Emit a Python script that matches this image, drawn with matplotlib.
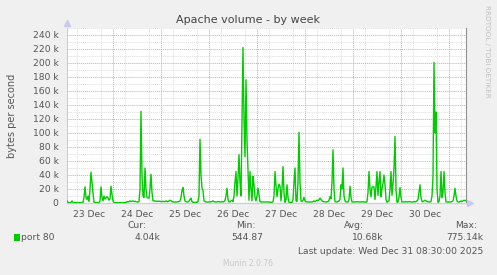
import numpy as np
import pandas as pd
import matplotlib
matplotlib.use("Agg")
import matplotlib.pyplot as plt
import matplotlib.dates as mdates
from matplotlib.patches import Rectangle
from matplotlib.ticker import MultipleLocator, FuncFormatter

# port 80 traffic, k bytes/s, one sample per 30 min from Dec 23 01:00
dec23 = [3, 1, 0.5, 0.5, 1, 3, 1, 0.5, 0.5, 0.5, 0.5, 0.5, 0.5, 0.5, 0.5, 0.5, 0.5,
         8, 23, 8, 5, 10, 2, 20, 44, 30, 14, 1, 0.5, 0.5, 0.5, 0.5, 0.5, 3, 23, 8,
         3, 10, 6, 7, 9, 7, 4, 6, 24, 12]
dec24 = [3, 0.5, 0.5, 0.5, 0.5, 0.5, 0.5, 0.5, 0.5, 0.5, 0.5, 0.5, 0.5,
         1, 2, 1.5, 2, 3, 2, 2.5, 3, 2, 2.5, 2, 1.5, 1.5, 2, 20, 131, 40, 10, 8,
         50, 20, 8, 7, 7, 20, 41, 15, 3, 3, 3, 2.5, 2.5, 2.5, 2.5, 2.5]
dec25 = [2, 2, 2.5, 2, 2, 3, 2, 2, 3, 4, 3, 2, 1.5, 1.5, 1.5, 1.5, 1.5, 2, 2, 3,
         8, 18, 22, 10, 3, 2, 1.5, 1.5, 3, 5, 7, 2, 1, 1, 1, 1, 1, 2, 10, 91, 40,
         21, 18, 3, 2, 1.5, 1.5, 1.5]
dec26 = [1.5, 1.5, 2, 2, 3, 2, 1.5, 1.5, 1.5, 2, 2, 1.5, 1.5, 2, 1.5, 2, 4, 10,
         21, 5, 1.5, 1.5, 3, 4, 2, 10, 30, 45, 10, 35, 69, 30, 10, 120, 222, 120,
         66, 176, 90, 45, 4, 45, 20, 3, 38, 26, 8, 3]
dec27 = [10, 21, 12, 2, 1.5, 1.5, 1.5, 1.5, 1.5, 1.5, 1.5, 1.5, 1.5, 1, 1, 1, 1.5,
         10, 45, 25, 9, 20, 27, 24, 3, 20, 52, 15, 1, 5, 26, 8, 1, 1, 1, 1, 5, 30,
         50, 3, 2, 30, 101, 30, 3, 2, 4, 8]
dec28 = [3, 2, 1.5, 1.5, 1.5, 1.5, 1.5, 1.5, 2, 3, 2, 3, 4, 3, 5, 7, 5, 3, 2, 2,
         1.5, 1.5, 1.5, 2, 4, 9, 6, 30, 76, 20, 2, 1.5, 1.5, 2, 3, 5, 26, 20, 50,
         10, 3, 1.5, 1.5, 1.5, 5, 24, 8, 1.5]
dec29 = [1.5, 1.5, 1.5, 1.5, 2, 1.5, 1.5, 1.5, 1.5, 2, 1.5, 1.5, 1.5, 1, 2, 15,
         45, 20, 9, 23, 23, 23, 5, 23, 45, 11, 30, 45, 9, 20, 28, 40, 27, 5, 1, 2,
         3, 20, 45, 11, 27, 50, 95, 20, 1, 1.5, 8, 22]
dec30 = [8, 1.5, 1.5, 1.5, 1.5, 2, 1.5, 1.5, 2, 2, 1.5, 1.5, 1.5, 2, 1.5, 2, 3, 5,
         15, 26, 8, 2, 2, 3, 4, 3, 2, 2, 1.5, 1.5, 2, 10, 38, 201, 100, 130, 20,
         1, 2, 10, 45, 8, 15, 45, 15, 1.5, 1.5, 1.5]
dec31 = [1.5, 1.5, 1.5, 2, 3, 10, 21, 10, 3, 1.5, 1.5, 2, 3, 2, 3, 4, 3, 4]

day_labels = ["23 Dec", "24 Dec", "25 Dec", "26 Dec", "27 Dec", "28 Dec", "29 Dec", "30 Dec"]
legend_name = "port 80"
stat_names = ["Cur:", "Min:", "Avg:", "Max:"]
stat_values = ["4.04k", "544.87", "10.68k", "775.14k"]

values = np.array(dec23 + dec24 + dec25 + dec26 + dec27 + dec28 + dec29 + dec30 + dec31) * 1000
times = pd.date_range("2025-12-23 01:00", periods=len(values), freq="30min")

W, H = 497, 275
fig = plt.figure(figsize=(W / 100, H / 100), dpi=100, facecolor="#f0f0f0")


def fx(x):
    return x / W


def fy(y):
    return 1 - y / H


ax = fig.add_axes([fx(67), fy(203), fx(466) - fx(67), fy(28) - fy(203)])
ax.set_facecolor("white")
ax.set_xlim(pd.Timestamp("2025-12-23 01:00"), pd.Timestamp("2025-12-31 08:30"))
ax.set_ylim(0, 250000)

grey = "#dedede"
red = "#e8a0a0"
dots = (0, (1, 1))
ax.yaxis.set_major_locator(MultipleLocator(20000))
ax.yaxis.set_minor_locator(MultipleLocator(10000))
ax.yaxis.set_major_formatter(FuncFormatter(lambda v, p: "0" if v == 0 else "%d k" % (v / 1000)))
ax.xaxis.set_minor_locator(mdates.HourLocator(byhour=[6, 12, 18]))
ax.grid(which="minor", axis="both", color=grey, linestyle=dots, linewidth=0.7)
ax.grid(which="major", axis="y", color=red, linestyle=dots, linewidth=0.7)
for m in pd.date_range("2025-12-24", "2025-12-31", freq="D"):
    ax.axvline(m, color=red, linestyle=dots, linewidth=0.7, zorder=1)

noons = pd.date_range("2025-12-23 12:00", periods=len(day_labels), freq="D")
ax.set_xticks(noons)
ax.set_xticklabels(day_labels)
ax.tick_params(axis="both", which="both", length=0, labelsize=6.6, labelcolor="#555555")
ax.tick_params(axis="x", pad=5)
ax.tick_params(axis="y", pad=6)
ax.set_axisbelow(True)

ax.plot(times, values, color="#00cc00", linewidth=1.0, zorder=3)

ax.spines["top"].set_visible(False)
ax.spines["left"].set_color("#c8c8f0")
ax.spines["bottom"].set_color("#c8c8f0")
ax.spines["right"].set_color("#909090")
for s in ax.spines.values():
    s.set_linewidth(0.8)
ax.plot([0], [1.03], marker="^", color="#c8c8f0", markersize=4, transform=ax.transAxes, clip_on=False)
ax.plot([1.01], [0], marker=">", color="#c8c8f0", markersize=4, transform=ax.transAxes, clip_on=False)

fig.text(fx(12), fy(116), "bytes per second", rotation=90, ha="center", va="center",
         fontsize=7, color="#555555")
fig.text(fx(248), fy(20), "Apache volume - by week", ha="center", va="center",
         fontsize=8, color="#444444")
fig.text(fx(487), fy(5), "RRDTOOL / TOBI OETIKER", rotation=270, ha="center", va="top",
         fontsize=5.2, color="#c0c0c0")

# legend
fig.patches.append(Rectangle((fx(14), fy(241)), fx(6), fy(234) - fy(241), transform=fig.transFigure,
                             facecolor="#00cc00", edgecolor="none"))
fig.text(fx(21), fy(238), legend_name, ha="left", va="center", fontsize=6.6, color="#555555")
name_right = [146, 255, 364, 477]
value_right = [160, 263, 383, 483]
for n, v, nr, vr in zip(stat_names, stat_values, name_right, value_right):
    fig.text(fx(nr), fy(225), n, ha="right", va="center", fontsize=6.6, color="#555555")
    fig.text(fx(vr), fy(238), v, ha="right", va="center", fontsize=6.6, color="#555555")
fig.text(fx(483), fy(251), "Last update: Wed Dec 31 08:30:00 2025", ha="right", va="center",
         fontsize=6.6, color="#555555")
fig.text(fx(248), fy(263), "Munin 2.0.76", ha="center", va="center", fontsize=5.5, color="#c8c8c8")

fig.savefig("out.png", dpi=100, facecolor=fig.get_facecolor())
